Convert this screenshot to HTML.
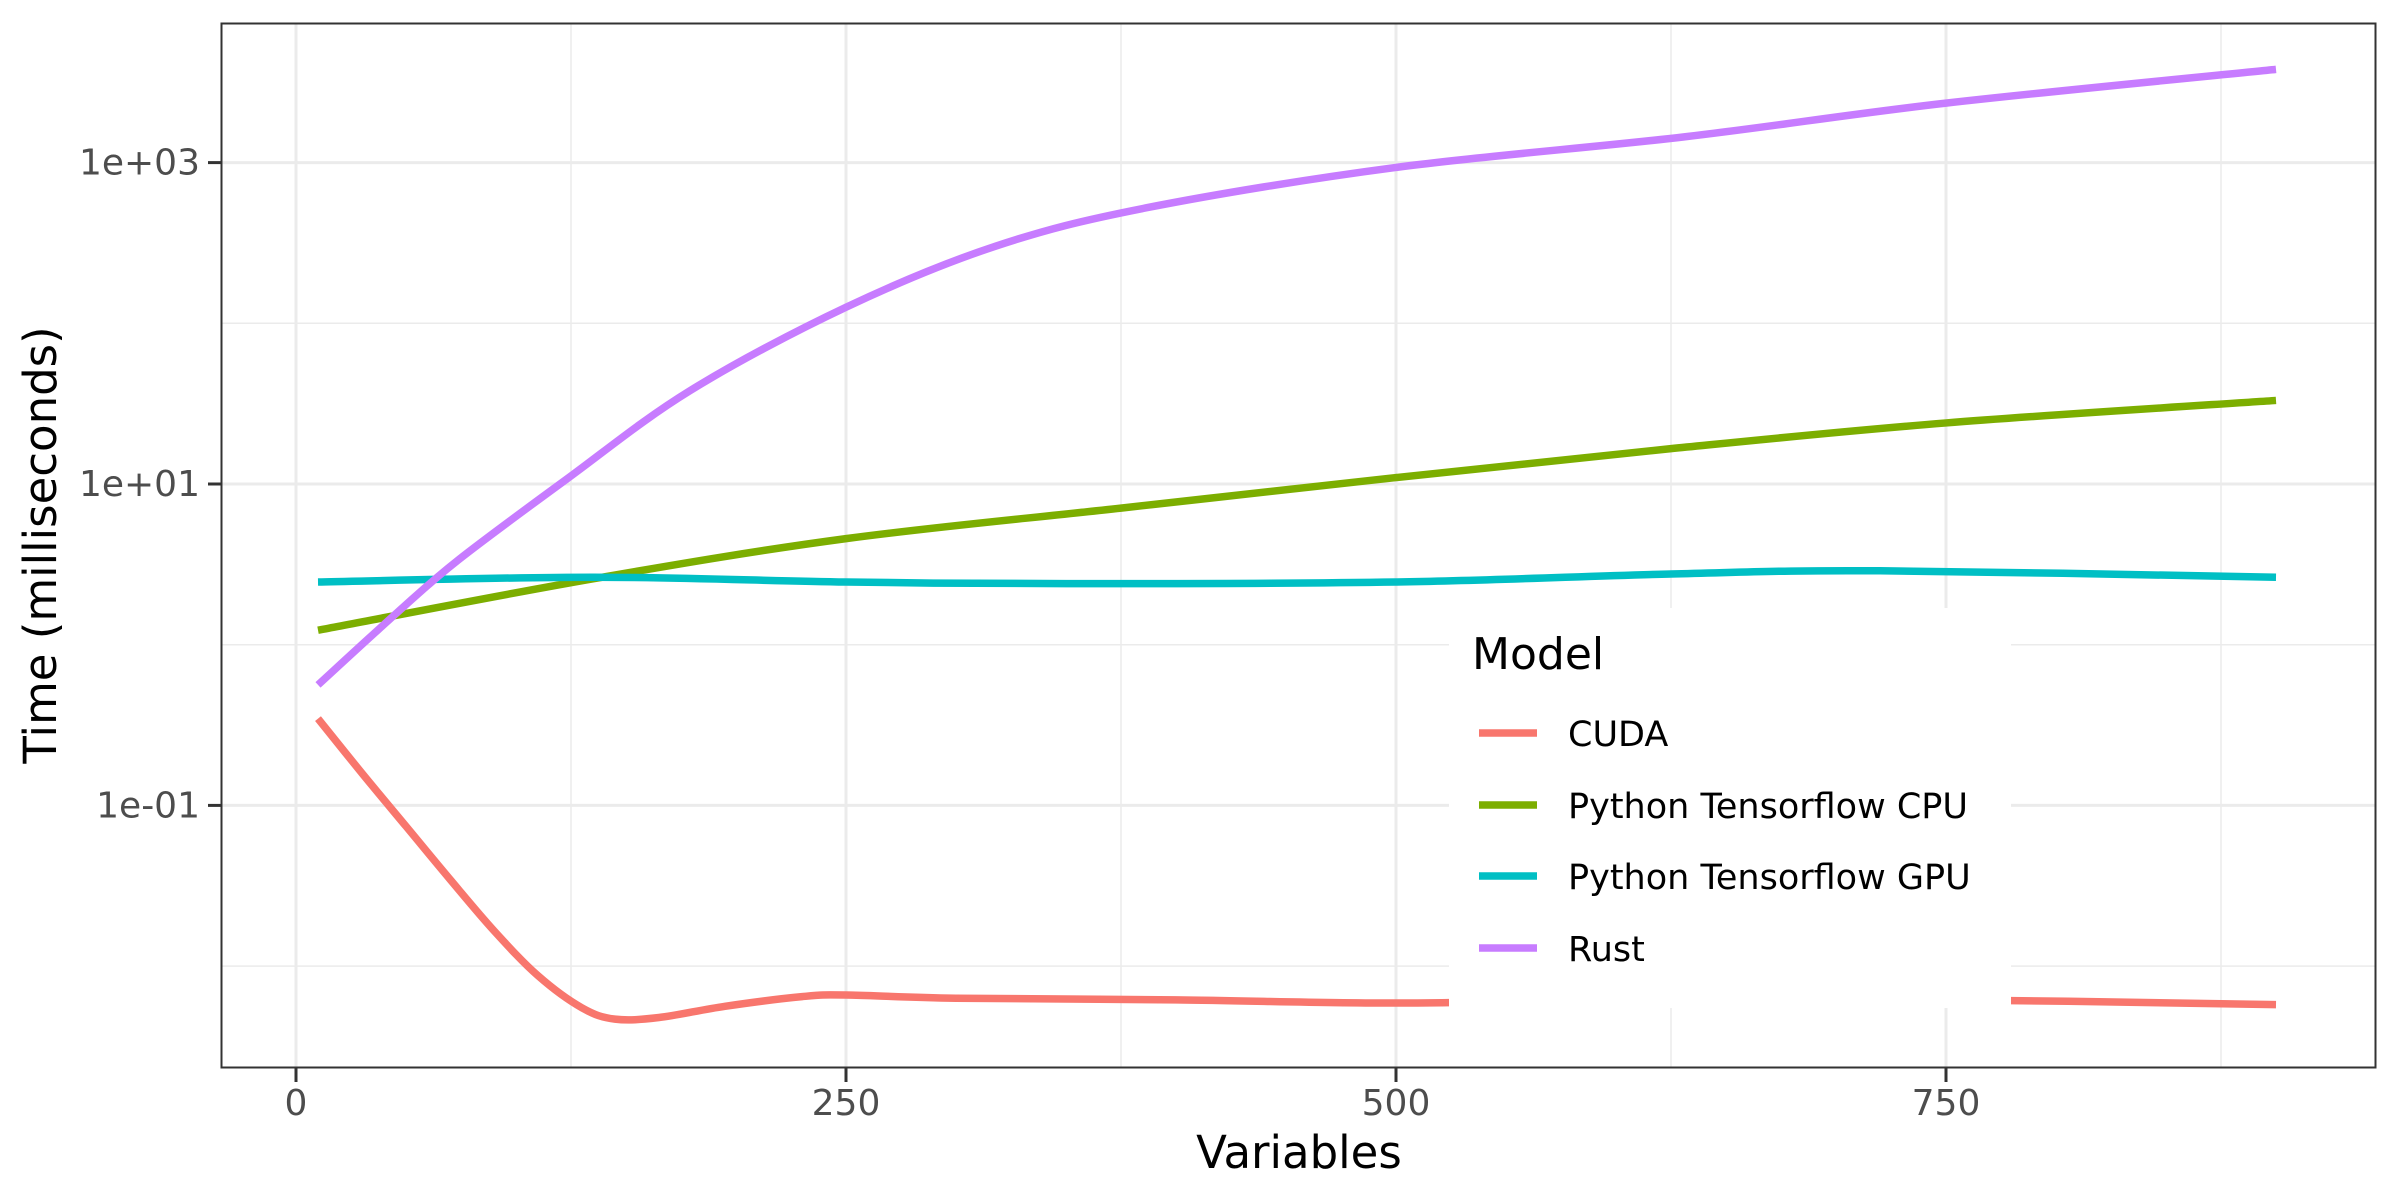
<!DOCTYPE html>
<html><head><meta charset="utf-8"><style>
html,body{margin:0;padding:0;background:#fff;}
svg{display:block;font-family:"DejaVu Sans","Liberation Sans",sans-serif;}
</style></head><body>
<svg id="chart" width="2400" height="1200" viewBox="0 0 2400 1200" xmlns="http://www.w3.org/2000/svg">
<rect x="0" y="0" width="2400" height="1200" fill="#fff"/>
<g id="grid"></g>
<g id="lines"></g>
<rect x="221.5" y="23.5" width="2154" height="1044" fill="none" stroke="#333" stroke-width="2"/>
<g id="axes"></g>
<text x="1299" y="1168" font-size="45" text-anchor="middle" fill="#000">Variables</text>
<text transform="translate(56,545) rotate(-90)" font-size="45" text-anchor="middle" fill="#000">Time (milliseconds)</text>
<g id="legend">
<rect x="1449" y="608" width="562" height="400" fill="#fff"/>
<text x="1472" y="669" font-size="44" fill="#000">Model</text>
</g>
</svg>
<script>
const categories = ["CUDA","Python Tensorflow CPU","Python Tensorflow GPU","Rust"];
const colors = ["#F8766D","#7CAE00","#00BFC4","#C77CFF"];
const cudaX = [10,30,50,70,90,110,130,145,165,195,230,250,300,400,500,600,750,900];
const cudaLog = [-0.46,-0.80,-1.13,-1.46,-1.78,-2.06,-2.26,-2.33,-2.32,-2.25,-2.19,-2.18,-2.20,-2.21,-2.23,-2.21,-2.21,-2.24];
const cpuX = [10,135,250,375,500,625,750,900];
const cpuLog = [0.09,0.41,0.66,0.85,1.04,1.22,1.38,1.52];
const gpuX = [10,135,250,350,500,625,720,900];
const gpuLog = [0.39,0.42,0.39,0.38,0.39,0.44,0.46,0.42];
const rustX = [10,46,74,123,179,250,318,387,500,631,750,900];
const rustLog = [-0.25,0.2,0.53,1.03,1.58,2.10,2.48,2.72,2.97,3.16,3.37,3.58];
const xTicks = [0,250,500,750];
const xMinor = [125,375,625,875];
const yTicks = [3,1,-1];
const yTickLabels = ["1e+03","1e+01","1e-01"];
const yMinor = [2,0,-2];

const NS="http://www.w3.org/2000/svg";
const X0=221, X1=2376, Y0=24, Y1=1068;
function sx(v){return 296 + v*2.2;}
function sy(l){return 484 - (l-1)*160.7;}
function mk(tag,attrs,parent){const e=document.createElementNS(NS,tag);for(const k in attrs)e.setAttribute(k,attrs[k]);parent.appendChild(e);return e;}
const grid=document.getElementById('grid'), axes=document.getElementById('axes'), lines=document.getElementById('lines'), legend=document.getElementById('legend');
yMinor.forEach(l=>{const e=mk('line',{x1:X0,x2:X1,y1:sy(l),y2:sy(l),stroke:'#ebebeb','stroke-width':1.5},grid);

});
xMinor.forEach(v=>{const e=mk('line',{x1:sx(v),x2:sx(v),y1:Y0,y2:Y1,stroke:'#ebebeb','stroke-width':1.5},grid);

});
yTicks.forEach((l,i)=>{const e=mk('line',{x1:X0,x2:X1,y1:sy(l),y2:sy(l),stroke:'#ebebeb','stroke-width':3},grid);


const t=mk('line',{x1:208,x2:X0,y1:sy(l),y2:sy(l),stroke:'#333','stroke-width':3},axes);


const tx=mk('text',{x:200,y:sy(l)+12,'font-size':36,'text-anchor':'end',fill:'#4d4d4d'},axes);
tx.textContent=yTickLabels[i];

});
xTicks.forEach(v=>{const e=mk('line',{x1:sx(v),x2:sx(v),y1:Y0,y2:Y1,stroke:'#ebebeb','stroke-width':3},grid);


const t=mk('line',{x1:sx(v),x2:sx(v),y1:Y1,y2:Y1+14,stroke:'#333','stroke-width':3},axes);


const tx=mk('text',{x:sx(v),y:1115,'font-size':36,'text-anchor':'middle',fill:'#4d4d4d'},axes);
tx.textContent=String(v);

});
function pathFor(xs,ls){const p=xs.map((x,i)=>[sx(x),sy(ls[i])]);let d='M'+p[0][0]+','+p[0][1];
for(let i=0;i<p.length-1;i++){const a=p[Math.max(0,i-1)],b=p[i],c=p[i+1],e=p[Math.min(p.length-1,i+2)];
const c1=[b[0]+(c[0]-a[0])/6,b[1]+(c[1]-a[1])/6],c2=[c[0]-(e[0]-b[0])/6,c[1]-(e[1]-b[1])/6];
d+=' C'+c1[0]+','+c1[1]+' '+c2[0]+','+c2[1]+' '+c[0]+','+c[1];}return d;}
const series=[[cudaX,cudaLog],[cpuX,cpuLog],[gpuX,gpuLog],[rustX,rustLog]];
const names=['line-cuda','line-python-cpu','line-python-gpu','line-rust'];
series.forEach((s,i)=>{const e=mk('path',{d:pathFor(s[0],s[1]),fill:'none',stroke:colors[i],'stroke-width':7.5,'stroke-linejoin':'round'},lines);

});
const ly=[733,805,876,948];
categories.forEach((c,i)=>{const k=mk('line',{x1:1479,x2:1537,y1:ly[i],y2:ly[i],stroke:colors[i],'stroke-width':7.5},legend);


const t=mk('text',{x:1568,y:ly[i]+13,'font-size':35,fill:'#000'},legend);
t.textContent=c;

});
</script>
</body></html>
